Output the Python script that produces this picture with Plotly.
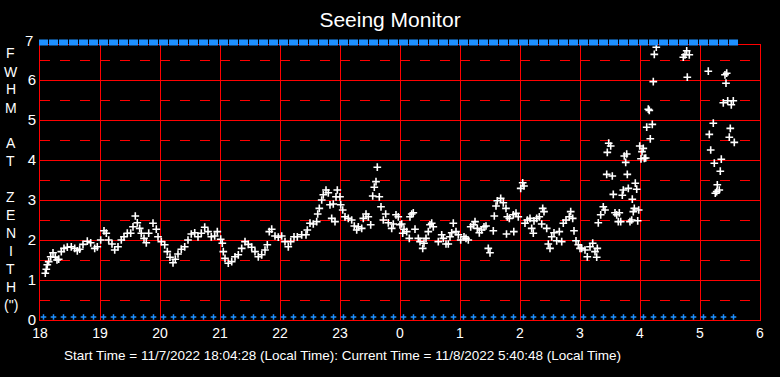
import plotly.graph_objects as go

# ---------------- data ----------------
# time of each seeing measurement, in minutes after 18:00 local time
seeing_minutes = [
    5.3, 6.3, 7.3, 8.7, 10.7, 13, 15.3, 17, 18.7, 21.3, 24, 27.3, 31.3, 34.7, 37.3, 39.7,
    43, 47.3, 50.7, 54.7, 57.3, 60.7, 64, 66.3, 68.7, 72, 74.7, 78, 81.3, 84, 87.3, 90.7,
    93, 95.3, 97.3, 99.7, 101.3, 104, 106.3, 108.7, 113, 116.3, 118, 121.3, 124.7, 127.3,
    130, 133, 135.3, 138, 141.3, 144.7, 148, 151.3, 154.7, 158, 161.3, 164.7, 168, 171.3,
    174.7, 177.3, 180.7, 182.3,
    183.3, 185, 188.3, 191.7, 195, 198.3, 201.7, 205, 208.3, 211.7, 215, 218.3, 221.7, 225,
    227.3, 229.3, 231.7, 235, 238.3, 241.7, 245, 248.3, 250.7, 254, 257.3, 261.7, 266, 267.3,
    270, 273.3, 276.7, 277.7, 279.3, 281.7, 283.3, 286, 288.3, 290, 291.7, 293.3, 295, 296,
    297.3, 300, 300.7, 302.7, 305, 308.3, 311.7, 314.3, 316.7, 318.3, 321.7, 323.3, 326,
    328.3, 330.7, 332.7, 334.3, 336, 337.3, 339.3, 341, 343.3, 345.7, 348.3, 351.7, 353.3,
    356, 358.3, 360,
    361.7, 362.7, 364, 366.7, 369.3, 370, 371.7, 373.3, 375, 378.3, 380, 382.7, 384, 386,
    388.3, 390, 391.7, 393.3, 398.3, 401.7, 403.3, 406, 408.3, 410, 411.7, 413.3, 416, 418.3,
    420.7, 424, 426, 428.3, 430.7, 433.3, 435, 437.3, 439.3, 441.7, 444, 446, 448.3, 450,
    453.3, 454.3, 456, 457.3, 460.7, 463.3, 466, 466.5, 467.3, 469.3, 473.3, 473.8, 476,
    478.3, 480.7, 482.7, 484, 485, 487.3, 490, 491.7, 493.3, 494, 496.7, 499.3, 501.7, 502.7,
    504, 506.7, 508.3, 510, 511.7, 514, 516.7, 519.3, 521.7, 523.3, 526, 529.3, 530.7, 532.7,
    534, 536, 538.3, 540,
    541.7, 545, 547.3, 550, 552.7, 555, 556.7, 557.3, 558.3, 560.7, 563.3, 565, 566.7, 567.3,
    568.7, 570.7, 572.3, 573.3, 575, 576.7, 578.3, 579.3, 580.7, 582.3, 583.3, 584.3, 585.7,
    586.7, 587.3, 588.3, 590, 591.7, 592.3, 593.3, 594.3, 595.3, 596.7, 597.7, 598.7, 599.7,
    601, 602, 603.3, 604.3, 605.7, 606.7, 608.3, 609.3, 610.3, 612.3, 613.3, 614.3, 616.3,
    643.3, 645, 646.7, 647.3, 649.3, 650, 668.3, 669.3, 670.7, 673.3, 674.3, 675.3, 676.7,
    677.3, 679.3, 680.3, 681.3, 683.3, 685, 686, 686.7, 687.7, 689.3, 690.3, 691.3, 693.3,
    694.3, 695,
]
# FWHM at zenith (arcsec)
seeing_fwhm = [
    1.17, 1.27, 1.38, 1.46, 1.58, 1.68, 1.57, 1.5, 1.52, 1.71, 1.79, 1.82, 1.83, 1.79, 1.73, 1.77,
    1.89, 1.97, 1.93, 1.79, 1.83, 2.0, 2.23, 2.17, 2.0, 1.9, 1.75, 1.83, 2.0, 2.08, 2.17, 2.17,
    2.33, 2.6, 2.43, 2.29, 2.17, 2.04, 1.93, 2.17, 2.42, 2.27, 2.08, 1.96, 1.88, 1.71,
    1.57, 1.43, 1.52, 1.65, 1.77, 1.83, 2.0, 2.15, 2.18, 2.08, 2.17, 2.32, 2.21, 2.08,
    2.1, 2.21, 2.02, 1.92,
    1.71, 1.54, 1.42, 1.46, 1.58, 1.63, 1.79, 1.96, 1.89, 1.82, 1.71, 1.58, 1.63, 1.75,
    1.88, 2.21, 2.27, 2.1, 2.07, 2.1, 1.96, 1.83, 1.96, 2.08, 2.08, 2.13, 2.13, 2.25,
    2.42, 2.4, 2.46, 2.65, 2.79, 3.0, 3.13, 3.25, 3.18, 2.88, 2.54, 2.9, 2.46, 3.08,
    3.25, 3.08, 2.88, 2.75, 2.58, 2.54, 2.5, 2.35, 2.25, 2.33, 2.29, 2.54, 2.65,
    2.58, 2.38, 3.1, 3.32, 3.46, 3.82, 3.08, 2.83, 2.5, 2.65, 2.43, 2.29, 2.4,
    2.63, 2.58, 2.38,
    2.4, 2.17, 2.27, 2.21, 2.04, 2.58, 2.65, 2.68, 2.27, 2.04, 1.96, 1.79, 1.92, 2.04,
    2.21, 2.38, 2.42, 2.33, 1.96, 2.13, 2.04, 1.9, 1.9, 2.08, 2.18, 2.42, 2.21, 2.13,
    2.0, 2.08, 2.04, 2.0, 2.33, 2.38, 2.46, 2.29, 2.18, 2.25, 2.33, 2.35, 1.79, 1.68,
    2.23, 2.6, 2.85, 2.98, 3.04, 2.93, 2.79, 2.15, 2.58, 2.54, 2.63, 2.21, 2.67,
    2.58, 3.29, 3.43, 3.35, 2.42, 2.5, 2.54, 2.29, 2.17, 2.48, 2.54, 2.58, 2.4, 2.79,
    2.71, 2.29, 1.9, 1.79, 2.08, 2.18, 1.98, 2.21, 1.96, 2.42, 2.5, 2.58, 2.71, 2.54,
    2.23, 1.98, 1.88, 1.79,
    1.79, 1.75, 1.58, 1.83, 1.92, 1.71, 1.57, 1.79, 2.43, 2.63, 2.83, 2.75, 3.64, 4.19,
    4.42, 4.35, 3.6, 3.14, 2.68, 2.63, 2.46, 2.68, 2.46, 3.12, 3.25, 4.1, 3.94,
    4.15, 3.64, 3.29, 2.46, 2.5, 3.02, 2.71, 2.79, 3.42, 3.27, 2.48, 2.75, 4.35,
    4.03, 4.21, 4.29, 4.04, 4.05, 4.82, 5.27, 5.24, 4.53, 4.89, 5.96, 6.64, 6.82,
    6.57, 6.63, 6.73, 6.07, 6.63, 6.92, 6.22, 4.64, 4.25, 4.92, 3.92, 3.17, 3.21,
    3.38, 3.25, 3.72, 4.02, 5.43, 6.13, 5.92, 6.17, 5.48, 4.57, 4.79, 5.38, 5.48,
    4.44, 6.93,
]

# status markers, every 10 minutes (minutes after 18:00)
status_minutes = [
    3.5, 13.5, 23.5, 33.5, 43.5, 53.5, 63.5, 73.5, 83.5, 93.5, 103.5, 113.5, 123.5, 133.5,
    143.5, 153.5, 163.5, 173.5, 183.5, 193.5, 203.5, 213.5, 223.5, 233.5, 243.5, 253.5,
    263.5, 273.5, 283.5, 293.5, 303.5, 313.5, 323.5, 333.5, 343.5, 353.5, 363.5, 373.5,
    383.5, 393.5, 403.5, 413.5, 423.5, 433.5, 443.5, 453.5, 463.5, 473.5, 483.5, 493.5,
    503.5, 513.5, 523.5, 533.5, 543.5, 553.5, 563.5, 573.5, 583.5, 593.5, 603.5, 613.5,
    623.5, 633.5, 643.5, 653.5, 663.5, 673.5, 683.5, 693.5,
]
status_low_level = 0.075
status_high_level = 0.5   # centre of the status strip above the frame

hour_ticks = [18, 19, 20, 21, 22, 23, 24, 25, 26, 27, 28, 29, 30]
hour_labels = ["18", "19", "20", "21", "22", "23", "0", "1", "2", "3", "4", "5", "6"]
fwhm_ticks = [0, 1, 2, 3, 4, 5, 6]
fwhm_labels = ["0", "1", "2", "3", "4", "5", "6"]

title_text = "Seeing Monitor"
axis_title_letters = ["F", "W", "H", "M", "", "A", "T", "", "Z", "E", "N", "I", "T", "H", "(\")"]
footer_text = ("Start Time = 11/7/2022 18:04:28 (Local Time): "
               "Current Time = 11/8/2022 5:40:48 (Local Time)")

# ---------------- figure ----------------
FONT = "Liberation Sans, Arial, sans-serif"
RED = "#ff0000"
BLUE = "#1e90ff"
W, H = 780, 377
ML, MR, MT, MB = 40, 20, 38, 57
PW = W - ML - MR          # 720
PH = H - MT - MB          # 282  (plot area from y=38 to y=320)
BOTTOM = H - MB           # 320
YMAX = 6.875

def py2paper(py):
    return (BOTTOM - py) / PH

def px2paper(px):
    return (px - ML) / PW

def hours(mins):
    return [18 + m / 60.0 for m in mins]

fig = go.Figure()

fig.add_trace(go.Scatter(
    x=hours(seeing_minutes), y=seeing_fwhm, mode="markers",
    marker=dict(symbol="cross-thin", size=5.5, color="white",
                line=dict(color="white", width=1.6)),
    hoverinfo="skip", showlegend=False,
))
fig.add_trace(go.Scatter(
    x=hours(status_minutes), y=[status_low_level] * len(status_minutes), mode="markers",
    marker=dict(symbol="cross-thin", size=4, color=BLUE,
                line=dict(color=BLUE, width=1.5)),
    hoverinfo="skip", showlegend=False, cliponaxis=False,
))
fig.add_trace(go.Scatter(
    x=hours(status_minutes), y=[status_high_level] * len(status_minutes), mode="markers",
    xaxis="x2", yaxis="y2",
    marker=dict(symbol="line-ew", size=6.4, color=BLUE,
                line=dict(color=BLUE, width=6)),
    hoverinfo="skip", showlegend=False, cliponaxis=False,
))

annotations = []
annotations.append(dict(
    x=0, xref="paper", y=py2paper(40), yref="paper", text="7",
    showarrow=False, xanchor="right", yanchor="middle", xshift=-5,
    font=dict(family=FONT, size=15, color="white"),
))
letter_py = [53, 71.5, 89.5, 107.5, 125.5, 143, 161, 179, 197, 215, 233, 251, 269, 287, 305]
for ch, py in zip(axis_title_letters, letter_py):
    if not ch:
        continue
    annotations.append(dict(
        x=px2paper(11), xref="paper", y=py2paper(py), yref="paper",
        text=ch, showarrow=False, xanchor="center", yanchor="middle",
        font=dict(family=FONT, size=14, color="white"),
    ))
annotations.append(dict(
    x=px2paper(62), xref="paper", y=py2paper(355), yref="paper",
    text=footer_text, showarrow=False, xanchor="left", yanchor="middle",
    font=dict(family=FONT, size=13.5, color="white"),
))

fig.update_layout(
    width=W, height=H,
    margin=dict(l=ML, r=MR, t=MT, b=MB, pad=0),
    paper_bgcolor="black", plot_bgcolor="black",
    title=dict(text=title_text, x=0.5, xanchor="center", y=1 - 20 / H, yanchor="middle",
               font=dict(family=FONT, size=21, color="white")),
    xaxis=dict(
        range=[18, 30], tickmode="array", tickvals=hour_ticks, ticktext=hour_labels,
        showgrid=True, gridcolor=RED, gridwidth=1, zeroline=False,
        showline=True, linecolor=RED, linewidth=1, mirror=True,
        ticks="", tickfont=dict(family=FONT, size=14, color="white"),
        anchor="y",
    ),
    yaxis=dict(
        domain=[0, py2paper(45)],
        range=[0, YMAX], tickmode="array", tickvals=fwhm_ticks, ticktext=fwhm_labels,
        showgrid=True, gridcolor=RED, gridwidth=1, zeroline=False,
        showline=True, linecolor=RED, linewidth=1, mirror=True,
        ticks="", tickfont=dict(family=FONT, size=15, color="white"),
        minor=dict(dtick=0.5, tick0=0, showgrid=True, gridcolor=RED, gridwidth=1,
                   griddash="10px,10px", ticks=""),
        anchor="x",
    ),
    xaxis2=dict(range=[18, 30], domain=[0, 1], anchor="y2", visible=False,
                showgrid=False, zeroline=False),
    yaxis2=dict(range=[0, 1], domain=[py2paper(45), py2paper(40)], anchor="x2",
                visible=False, showgrid=False, zeroline=False),
    annotations=annotations,
    showlegend=False,
)

fig.write_html("out.html", config={"displayModeBar": False},
               post_script="document.body.style.margin='0';")
